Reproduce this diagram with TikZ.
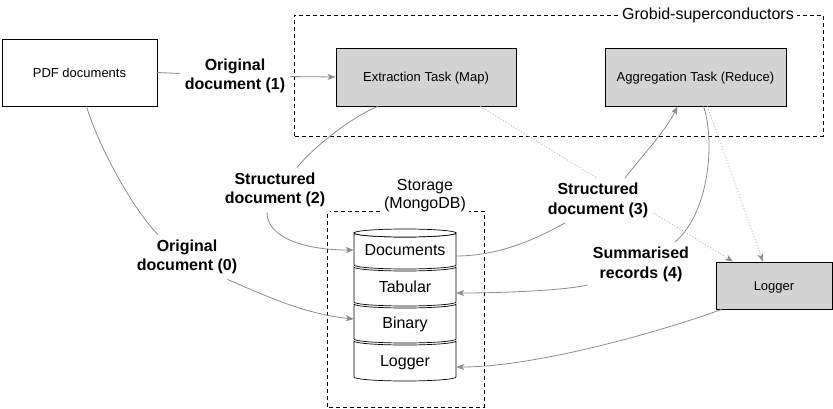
\documentclass[tikz,border=0pt]{standalone}
\usepackage{fontspec}
\setmainfont{Liberation Sans}
\usetikzlibrary{arrows.meta}
\definecolor{boxgray}{HTML}{D3D3D3}
\definecolor{linegray}{HTML}{8C8C8C}
\definecolor{dotgray}{HTML}{B4B4B4}
\begin{document}
\begin{tikzpicture}[x=1pt,y=1pt,
  taskbox/.style={draw=black, line width=0.8pt, fill=boxgray, font=\fontsize{13}{15.6}\selectfont, inner sep=0pt, text height=9.3pt, text depth=0pt},
  plainbox/.style={draw=black, line width=0.8pt, fill=white, font=\fontsize{13}{15.6}\selectfont, inner sep=0pt, text height=9.3pt, text depth=0pt},
  lbl/.style={font=\bfseries\fontsize{16}{19.5}\selectfont, align=center, inner sep=5pt, fill=white},
  layer/.style={minimum width=102pt, inner sep=0pt, text height=11.5pt, text depth=0pt, font=\fontsize{16}{19}\selectfont},
  region/.style={draw=black, line width=0.8pt, dash pattern=on 4pt off 3pt},
  title/.style={fill=white, inner sep=3pt, font=\fontsize{16}{18.5}\selectfont, align=center},
  conn/.style={draw=linegray, line width=0.8pt},
  arr/.style={conn, -{Stealth[length=8pt,width=6pt,inset=2pt]}},
  dotarr/.style={draw=dotgray, line width=0.8pt, dash pattern=on 1pt off 2pt, -{Stealth[length=8pt,width=6pt,inset=2pt,color=linegray]}},
  cyl/.style={draw=black, line width=0.7pt, fill=white}
]
\useasboundingbox (0,0) rectangle (833,408);

% regions
\draw[region] (294,272) rectangle (823,393);
\node[title] (grobidlbl) at (708,393) {Grobid-superconductors};
\draw[region] (327,1) rectangle (484,197);
\node[title] (storelbl) at (425,212.5) {Storage\\(MongoDB)};

% boxes
\node[plainbox, minimum width=155pt, minimum height=67pt] (pdf) at (79.5,335.5) {PDF documents};
\node[taskbox, minimum width=180pt, minimum height=58pt] (ext) at (426,331) {Extraction Task (Map)};
\node[taskbox, minimum width=181pt, minimum height=58pt] (agg) at (695.5,331) {Aggregation Task (Reduce)};
\node[taskbox, minimum width=116pt, minimum height=47pt] (logger) at (774,122.5) {Logger};

% cylinder stack
\foreach \t/\b in {175/143, 141/106, 104/69, 67/31} {
  \draw[cyl] (354,\t) -- (354,\b) arc[start angle=180, end angle=360, x radius=51, y radius=4]
    -- (456,\t) arc[start angle=0, end angle=-180, x radius=51, y radius=4] -- cycle;
}
\draw[cyl] (405,175) ellipse[x radius=51, y radius=4];
\node[layer] (docs) at (405,158) {Documents};
\node[layer] (tab) at (405,121) {Tabular};
\node[layer] (bin) at (405,85) {Binary};
\node[layer] (log) at (405,47) {Logger};

% dotted logging connectors (behind labels)
\draw[dotarr] ([xshift=54pt]ext.south) -- ([xshift=-41pt]logger.north);
\draw[dotarr] ([xshift=12pt]agg.south) -- ([xshift=-11pt]logger.north);

% labels
\node[lbl] (lab1) at (235,332) {Original\\document (1)};
\node[lbl] (lab0) at (187,151) {Original\\document (0)};
\node[lbl] (lab2) at (275,218) {Structured\\document (2)};
\node[lbl] (lab3) at (598,207.5) {Structured\\document (3)};
\node[lbl] (lab4) at (641,143.5) {Summarised\\records (4)};

% connectors
\draw[conn] (pdf.east) -- (lab1);
\draw[arr] (lab1) -- (ext.west);

\draw[conn] ([xshift=7pt]pdf.south) .. controls +(12,-40) and +(-25,25) .. ([xshift=-29pt]lab0.north);
\draw[arr] ([xshift=-15pt]lab0.south east) .. controls +(35,-15) and +(-50,5) .. ([yshift=4pt]bin.west);

\draw[conn] ([xshift=-48pt]ext.south) .. controls +(-28,-11) and +(13,17) .. ([xshift=22pt]lab2.north);
\draw[arr] ([xshift=-8pt]lab2.south) .. controls +(0,-25) and +(-50,0) .. (docs.west);

\draw[conn] ([yshift=-6pt]docs.east) .. controls +(45,0) and +(-25,-14) .. ([xshift=-33pt]lab3.south);
\draw[arr] ([xshift=27pt]lab3.north) .. controls +(15,20) and +(-12,-25) .. ([xshift=-18pt]agg.south);

\draw[conn] ([xshift=8pt]agg.south) .. controls +(10.5,-29) and +(37,32.5) .. ([xshift=34pt]lab4.north);
\draw[arr] ([yshift=2pt]lab4.south west) .. controls +(-25,-6) and +(40,0) .. ([yshift=-6pt]tab.east);

\draw[arr] ([xshift=6pt]logger.south west) .. controls +(-60,-22) and +(80,0) .. ([yshift=-6pt]log.east);
\end{tikzpicture}
\end{document}
